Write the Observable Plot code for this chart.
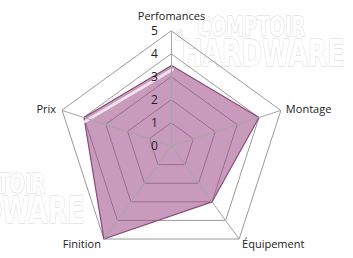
<!DOCTYPE html>
<html>
<head>
<meta charset="utf-8">
<script src="https://cdn.jsdelivr.net/npm/d3@7"></script>
<script src="https://cdn.jsdelivr.net/npm/@observablehq/plot@0.6"></script>
<style>
  html, body { margin: 0; padding: 0; background: #fff; }
  #chart { width: 353px; height: 258px; }
</style>
</head>
<body>
<div id="chart"></div>
<script>
const axes = ["Perfomances", "Montage", "Équipement", "Finition", "Prix"];
const values = [3.5, 4, 3, 5, 4];
const levels = [1, 2, 3, 4, 5];
const tickLabels = ["0", "1", "2", "3", "4", "5"];

const W = 353, H = 258;
const k = 23;            // pixels per unit
const cx = 171, cy = 145.5;

const ang = i => (90 - 72 * i) * Math.PI / 180;
const px = (r, i) => r * Math.cos(ang(i));
const py = (r, i) => r * Math.sin(ang(i));

const grid = levels.flatMap(l => axes.map((a, i) => ({level: l, x: px(l, i), y: py(l, i)})));
const spokes = axes.map((a, i) => ({x: px(5, i), y: py(5, i)}));
const poly = axes.map((a, i) => ({x: px(values[i], i), y: py(values[i], i)}));
const ticks = tickLabels.map((t, j) => ({t, y: j}));

const labelOpts = [
  {textAnchor: "middle", dx: 0, dy: -15},
  {textAnchor: "start", dx: 5, dy: -1},
  {textAnchor: "start", dx: 3, dy: 5},
  {textAnchor: "end", dx: -3, dy: 5},
  {textAnchor: "end", dx: -6, dy: -1}
];

const font = "'Open Sans', 'DejaVu Sans', sans-serif";
const wmFont = "'Liberation Sans Narrow', 'DejaVu Sans Condensed', sans-serif";

const wm = (txt, dx, dy, size, cls, extra = {}) => Plot.text([txt], {
  frameAnchor: "top-left", text: d => d, dx, dy, fontSize: size,
  fontFamily: wmFont, fontWeight: "bold", textAnchor: "start", lineAnchor: "top",
  fill: "white", stroke: "#d6d6d6", strokeWidth: 1, className: cls, ...extra
});

const chart = Plot.plot({
  width: W, height: H,
  margin: 0,
  x: {domain: [-cx / k, (W - cx) / k], axis: null},
  y: {domain: [-(H - cy) / k, cy / k], axis: null},
  style: {fontFamily: font, background: "white"},
  marks: [
    wm("COMPTOIR", 197, 17, 26, "wm1"),
    wm("HARDWARE", 181, 39, 37, "wm2"),
    wm("Le", 179, 40, 9, "wm5", {rotate: -90, lineAnchor: "middle"}),
    wm("COMPTOIR", -63, 174, 26, "wm3"),
    wm("HARDWARE", -79, 196, 37, "wm4"),
    Plot.line(grid, {x: "x", y: "y", z: "level", curve: "linear-closed", stroke: "#9a9a9a", strokeWidth: 1}),
    Plot.line(poly, {x: "x", y: "y", curve: "linear-closed", fill: "#9b4985", fillOpacity: 0.55, stroke: "#8a4a7a", strokeWidth: 1.2}),
    Plot.line([poly[4], poly[0]], {x: "x", y: "y", dx: 1, dy: 4, stroke: "#f3eaf0", strokeWidth: 3, strokeOpacity: 0.9}),
    Plot.link(spokes, {x1: 0, y1: 0, x2: "x", y2: "y", stroke: "#a6a6a6", strokeWidth: 1}),
    Plot.text(ticks, {x: 0, y: "y", text: "t", dx: -17, fontSize: 12, fill: "#222", fontFamily: font}),
    ...axes.map((a, i) => Plot.text([a], {
      x: px(5, i), y: py(5, i), text: d => d, fontSize: 11, fill: "#222",
      fontFamily: font, ...labelOpts[i]
    }))
  ]
});

d3.select(chart).selectAll(".wm1 text, .wm3 text").attr("textLength", 108).attr("lengthAdjust", "spacingAndGlyphs");
d3.select(chart).selectAll(".wm2 text, .wm4 text").attr("textLength", 163).attr("lengthAdjust", "spacingAndGlyphs");

document.getElementById("chart").appendChild(chart);
</script>
</body>
</html>
